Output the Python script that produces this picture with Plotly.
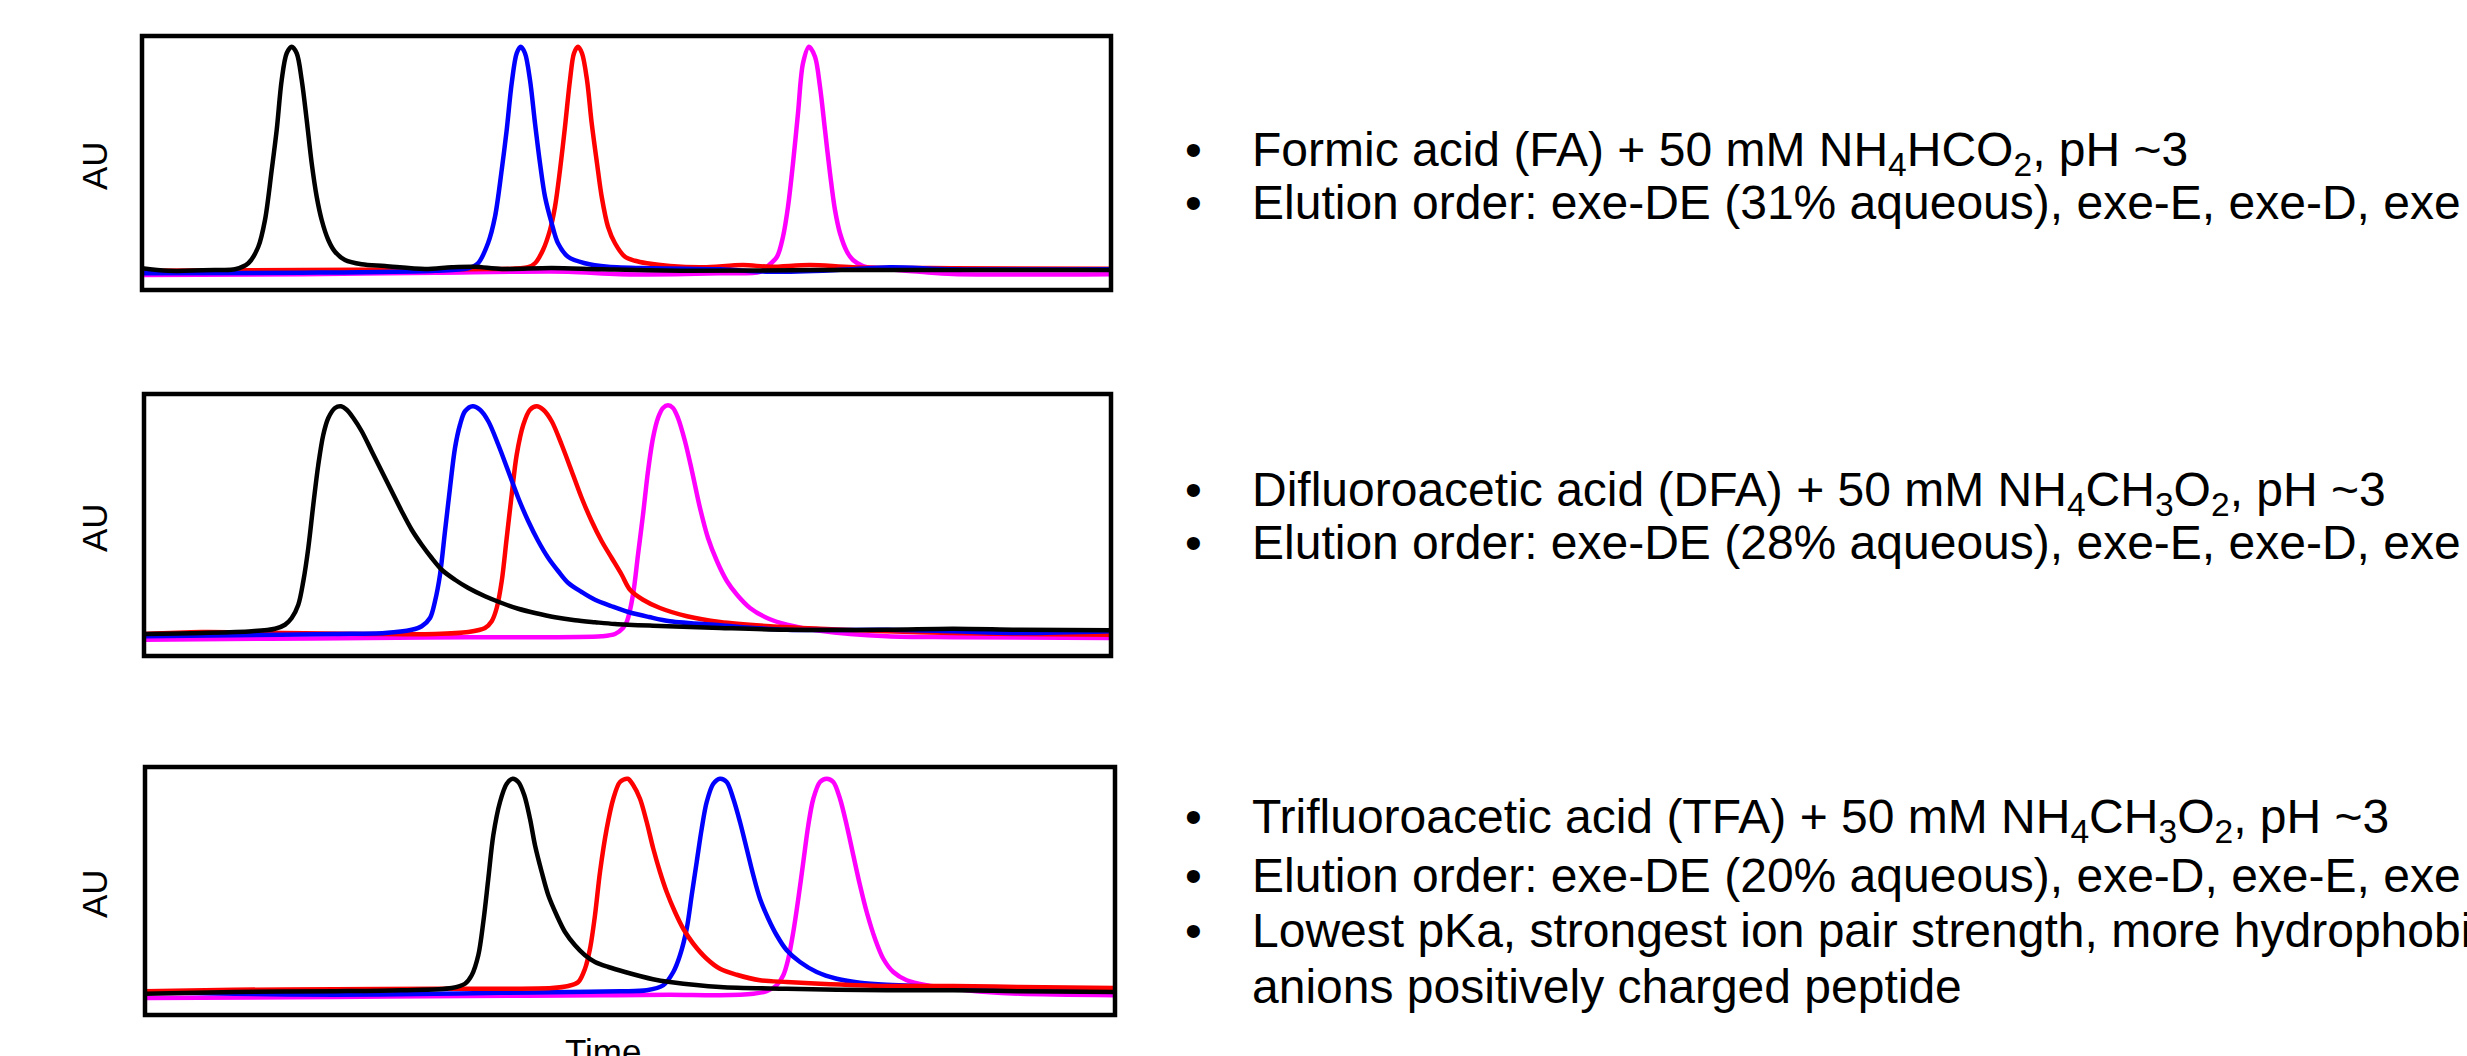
import plotly.graph_objects as go

W, H = 2467, 1056

# ---------------- data (time in arbitrary units, AU) ----------------
# Panel 1: Formic acid
fa_black_t = [0, 2.63, 7.63, 9.3, 10.63, 11.63, 12.3, 12.97, 13.47, 13.97, 14.47, 14.97, 15.47, 15.97, 16.47, 16.97, 17.47, 17.97, 18.63, 19.3, 20.3, 21.97, 24.3, 28.3, 30.97, 33.3, 35.97, 40.97, 45.97, 54.5, 67.8, 81.1, 96.9]
fa_black_y = [8.7, 7.7, 8.0, 8.3, 10.7, 17.3, 28, 48, 64, 84, 94.7, 97.3, 94.7, 84, 68, 50.7, 37.3, 28, 20, 15.3, 12, 10.3, 9.6, 8.4, 9.1, 9.3, 8.4, 8.8, 8.3, 7.7, 8.0, 8.0, 8.0]
fa_blue_t = [0, 15.97, 29.3, 32.6, 33.6, 34.6, 35.3, 35.97, 36.47, 36.97, 37.47, 37.87, 38.3, 38.8, 39.3, 39.8, 40.3, 40.97, 41.6, 42.6, 44.3, 46.6, 51.1, 57.8, 62.8, 69.5, 74.8, 81.1, 96.9]
fa_blue_y = [6.7, 6.9, 7.7, 8.7, 10.7, 18.7, 29.3, 48, 64, 82.7, 94.7, 97.3, 94.7, 84, 66.7, 50.7, 37.3, 26.7, 18.7, 13.3, 10.7, 9.3, 8.7, 8.3, 7.3, 8.0, 9.1, 8.3, 8.3]
fa_red_t = [0, 15.97, 32.6, 38.6, 39.3, 40.1, 40.8, 41.3, 41.8, 42.3, 42.8, 43.2, 43.6, 44.0, 44.5, 44.97, 45.5, 45.97, 46.6, 47.3, 48.3, 49.3, 50.5, 52.8, 56.1, 60.1, 62.8, 66.8, 71.1, 81.1, 96.9]
fa_red_y = [7.7, 8.0, 8.3, 9.1, 10.7, 16, 24, 33.3, 48, 65.3, 84, 94.7, 97.3, 94.7, 84, 66.7, 50.7, 37.3, 25.3, 18.7, 13.3, 11.7, 10.7, 9.6, 9.1, 10, 9.3, 10, 9.1, 8.7, 8.5]
fa_mag_t = [0, 15.97, 29.3, 42.6, 47.8, 57.8, 61.8, 62.5, 63.5, 64.1, 64.6, 65.1, 65.6, 66.1, 66.7, 67.3, 67.8, 68.3, 68.8, 69.3, 69.8, 70.5, 71.1, 72.1, 73.5, 77.8, 81.1, 96.9]
fa_mag_y = [6.0, 6.3, 6.9, 7.3, 6.3, 6.7, 7.3, 9.3, 13.3, 21.3, 33.3, 50.7, 70.7, 90.7, 97.3, 93.3, 81.3, 64, 46.7, 32, 22.7, 15.3, 12, 9.6, 8.7, 7.3, 6.4, 6.3]

# Panel 2: Difluoroacetic acid
dfa_black_t = [0, 5.77, 10.77, 13.1, 14.1, 14.77, 15.43, 15.93, 16.43, 16.93, 17.43, 17.93, 18.43, 19.1, 19.7, 20.27, 20.93, 21.77, 22.77, 23.77, 24.77, 25.77, 26.77, 27.77, 28.77, 29.77, 31.1, 32.43, 34.1, 35.77, 37.43, 39.1, 41.1, 43.1, 45.1, 47.1, 50.9, 57.6, 64.3, 74.3, 80.9, 87.6, 96.7]
dfa_black_y = [8.8, 9.2, 9.9, 10.9, 12.5, 15.2, 20.5, 29.9, 43.2, 60.5, 76.5, 88.5, 95.2, 99.2, 99.9, 98.5, 95.2, 89.9, 81.9, 73.9, 65.9, 57.9, 50.5, 44.5, 39.2, 34.5, 30.5, 27.2, 23.9, 21.2, 18.9, 17.2, 15.5, 14.3, 13.5, 12.8, 12.1, 11.2, 10.5, 10.5, 10.9, 10.5, 10.3]
dfa_blue_t = [0, 9.1, 19.1, 24.1, 26.77, 27.77, 28.6, 29.1, 29.6, 30.1, 30.6, 31.1, 31.6, 32.1, 32.87, 33.6, 34.43, 35.43, 36.43, 37.43, 38.43, 39.43, 40.43, 41.43, 42.43, 43.77, 45.1, 46.77, 48.43, 50.5, 52.6, 57.6, 64.3, 74.3, 80.9, 87.6, 96.7]
dfa_blue_y = [7.9, 8.3, 8.8, 9.2, 10.5, 11.9, 15.2, 21.9, 32.5, 49.9, 67.2, 83.2, 92.5, 97.9, 99.9, 98.5, 93.9, 84.5, 73.9, 63.2, 53.9, 45.9, 39.2, 33.9, 29.2, 25.6, 22.5, 19.9, 17.6, 15.6, 13.9, 12.3, 10.5, 10.5, 9.9, 9.2, 9.9]
dfa_red_t = [0, 5.77, 14.1, 22.43, 29.1, 32.43, 34.1, 34.77, 35.27, 35.77, 36.27, 36.77, 37.27, 37.93, 38.6, 39.27, 39.93, 40.77, 41.77, 42.77, 43.77, 44.77, 45.77, 46.77, 47.77, 48.6, 49.9, 51.6, 54.3, 57.6, 62.6, 67.6, 74.3, 80.9, 87.6, 96.7]
dfa_red_y = [8.8, 9.6, 9.2, 8.8, 8.8, 9.6, 11.2, 13.9, 19.2, 29.9, 47.2, 64.5, 80.5, 92.5, 98.5, 99.9, 98.5, 93.9, 84.5, 73.9, 63.2, 53.9, 45.9, 39.2, 32.5, 26.5, 22.5, 19.2, 15.9, 13.6, 11.9, 10.9, 9.9, 9.2, 8.8, 8.5]
dfa_mag_t = [0, 12.43, 22.43, 32.43, 45.77, 47.1, 47.9, 48.3, 48.9, 49.4, 49.9, 50.4, 50.9, 51.4, 51.9, 52.4, 52.9, 53.4, 54.1, 54.8, 55.6, 56.4, 57.3, 58.3, 59.3, 60.6, 62.3, 64.3, 67.6, 74.3, 80.9, 96.7]
dfa_mag_y = [6.5, 6.9, 7.2, 7.5, 7.9, 8.8, 11.2, 13.9, 24.5, 40.5, 56.5, 73.9, 87.2, 95.2, 99.2, 100.3, 99.2, 95.2, 85.9, 73.9, 59.2, 47.2, 37.9, 29.9, 24.5, 19.2, 15.2, 12.5, 10.1, 7.9, 7.5, 7.2]

# Panel 3: Trifluoroacetic acid
tfa_black_t = [0, 9, 19, 25.67, 30.67, 32, 32.67, 33.33, 33.83, 34.33, 34.83, 35.5, 36.17, 36.77, 37.33, 37.93, 38.5, 39, 39.67, 40.33, 41.17, 42, 43, 44, 45, 46.33, 48, 50.8, 52.5, 57.5, 64.2, 74.2, 80.8, 87.5, 97]
tfa_black_y = [8.5, 9.2, 9.5, 9.9, 10.8, 12.5, 15.9, 23.9, 37.2, 54.5, 71.9, 85.2, 92.5, 94.5, 93.2, 87.9, 78.5, 67.9, 57.2, 47.9, 39.9, 33.2, 27.9, 23.9, 21.2, 19.2, 17.2, 14.3, 13.2, 11.2, 10.5, 9.9, 9.9, 9.5, 9.2]
tfa_red_t = [0, 9, 19, 29, 35.67, 40.67, 42.33, 43.33, 44, 44.5, 45, 45.5, 46.17, 46.83, 47.5, 48.27, 48.83, 49.5, 50.17, 50.83, 51.5, 52.17, 53, 53.83, 54.83, 56.17, 57.5, 59.17, 61.5, 64.17, 67.5, 74.17, 80.83, 87.5, 97]
tfa_red_y = [9.5, 10.1, 10.3, 10.5, 10.5, 10.8, 11.6, 13.2, 18.5, 26.5, 39.9, 57.2, 74.5, 86.5, 93.2, 94.5, 91.9, 86.5, 77.2, 66.5, 57.2, 49.2, 41.2, 34.5, 28.5, 22.5, 18.5, 16.1, 13.9, 13.2, 12.5, 11.6, 11.6, 11.2, 10.8]
tfa_blue_t = [0, 9, 19, 29, 35.67, 42.33, 47.5, 50.17, 51.83, 52.83, 53.5, 54.17, 54.67, 55.17, 55.67, 56.17, 56.83, 57.5, 58.17, 58.83, 59.5, 60.17, 60.83, 61.5, 62.33, 63.17, 64.17, 65.5, 67.17, 69.17, 71.5, 74.17, 80.83, 87.5, 97]
tfa_blue_y = [9.2, 8.5, 8.1, 8.5, 8.9, 9.2, 9.5, 9.9, 11.9, 17.2, 23.9, 34.5, 47.9, 61.2, 74.5, 85.2, 92.5, 94.5, 93.2, 86.5, 77.2, 66.5, 55.9, 46.5, 38.5, 31.9, 25.9, 21.2, 17.2, 14.5, 12.9, 12.1, 11.2, 10.8, 10.5]
tfa_mag_t = [0, 19, 32.33, 45.67, 52.5, 57.5, 60.83, 62.17, 63.17, 63.83, 64.33, 64.83, 65.33, 65.83, 66.33, 66.83, 67.5, 68.17, 68.83, 69.5, 70.17, 70.83, 71.5, 72.17, 73, 73.83, 74.83, 76.17, 78.17, 80.83, 84.17, 87.5, 97]
tfa_mag_y = [6.8, 7.2, 7.6, 7.9, 8.1, 7.9, 8.5, 9.5, 11.9, 15.9, 22.5, 33.2, 46.5, 61.2, 75.9, 86.5, 93.2, 94.5, 93.2, 86.5, 75.9, 63.9, 51.9, 41.2, 30.5, 22.5, 17.2, 13.9, 11.9, 10.5, 9.2, 8.5, 7.9]

panel_lines = [
    ["Formic acid (FA) + 50 mM NH<sub>4</sub>HCO<sub>2</sub>, pH ~3",
     "Elution order: exe-DE (31% aqueous), exe-E, exe-D, exe"],
    ["Difluoroacetic acid (DFA) + 50 mM NH<sub>4</sub>CH<sub>3</sub>O<sub>2</sub>, pH ~3",
     "Elution order: exe-DE (28% aqueous), exe-E, exe-D, exe"],
    ["Trifluoroacetic acid (TFA) + 50 mM NH<sub>4</sub>CH<sub>3</sub>O<sub>2</sub>, pH ~3",
     "Elution order: exe-DE (20% aqueous), exe-D, exe-E, exe",
     "Lowest pKa, strongest ion pair strength, more hydrophobic",
     "anions positively charged peptide"],
]
y_label = "AU"
x_label = "Time"

# ---------------- layout (pixel geometry) ----------------
BLACK, BLUE, RED, MAG = "#000000", "#0000FF", "#FF0000", "#FF00FF"

panels = [
    dict(box=(142, 1111, 36, 290),
         series=[(fa_mag_t, fa_mag_y, MAG), (fa_red_t, fa_red_y, RED),
                 (fa_blue_t, fa_blue_y, BLUE), (fa_black_t, fa_black_y, BLACK)],
         text_base=[165, 218], bullets=[True, True]),
    dict(box=(144, 1111, 394, 656),
         series=[(dfa_mag_t, dfa_mag_y, MAG), (dfa_red_t, dfa_red_y, RED),
                 (dfa_blue_t, dfa_blue_y, BLUE), (dfa_black_t, dfa_black_y, BLACK)],
         text_base=[505, 558], bullets=[True, True]),
    dict(box=(145, 1115, 767, 1015),
         series=[(tfa_mag_t, tfa_mag_y, MAG), (tfa_blue_t, tfa_blue_y, BLUE),
                 (tfa_red_t, tfa_red_y, RED), (tfa_black_t, tfa_black_y, BLACK)],
         text_base=[832, 891, 946, 1002], bullets=[True, True, True, False]),
]

fig = go.Figure()
FONT = "Liberation Sans, Arial, sans-serif"
FS = 48
ASC = 0.905
annotations = []
shapes = []

for i, p in enumerate(panels):
    n = "" if i == 0 else str(i + 1)
    xl, xr, yt, yb = p["box"]
    xa, ya = "x" + n, "y" + n
    for t, y, c in p["series"]:
        fig.add_trace(go.Scatter(x=t, y=y, mode="lines", xaxis=xa, yaxis=ya,
                                 line=dict(color=c, width=4.5, shape="spline", smoothing=0.9),
                                 showlegend=False, hoverinfo="skip"))
    fig.layout["xaxis" + n] = dict(domain=[xl / W, xr / W], range=[0, (xr - xl) / 10],
                                   showgrid=False, zeroline=False, showticklabels=False,
                                   ticks="", showline=False, anchor=ya, fixedrange=True)
    fig.layout["yaxis" + n] = dict(domain=[1 - yb / H, 1 - yt / H], range=[0, (yb - yt) * 0.4],
                                   showgrid=False, zeroline=False, showticklabels=False,
                                   ticks="", showline=False, anchor=xa, fixedrange=True)
    shapes.append(dict(type="rect", xref=xa + " domain", yref=ya + " domain",
                       x0=0, x1=1, y0=0, y1=1, line=dict(color="black", width=4.5),
                       fillcolor="rgba(0,0,0,0)", layer="above"))
    # AU label
    annotations.append(dict(text=y_label, xref="paper", yref="paper",
                            x=94 / W, y=1 - ((yt + yb) / 2 + 3) / H, textangle=-90,
                            showarrow=False, xanchor="center", yanchor="middle",
                            font=dict(family=FONT, size=35, color="black")))
    # bullet text (anchored at the top of the text box so subscripts do not shift it)
    for line, base, bul in zip(panel_lines[i], p["text_base"], p["bullets"]):
        ytop = 1 - (base - ASC * FS - 1) / H
        if bul:
            annotations.append(dict(text="•", xref="paper", yref="paper", x=1193 / W, y=ytop,
                                    showarrow=False, xanchor="center", yanchor="top",
                                    font=dict(family=FONT, size=FS, color="black")))
        annotations.append(dict(text=line, xref="paper", yref="paper", x=1250 / W, y=ytop,
                                showarrow=False, xanchor="left", yanchor="top",
                                font=dict(family=FONT, size=FS, color="black")))

annotations.append(dict(text=x_label, xref="paper", yref="paper", x=603 / W, y=1 - 1051 / H,
                        showarrow=False, xanchor="center", yanchor="middle",
                        font=dict(family=FONT, size=35, color="black")))

fig.update_layout(width=W, height=H, margin=dict(l=0, r=0, t=0, b=0),
                  paper_bgcolor="white", plot_bgcolor="white",
                  annotations=annotations, shapes=shapes, showlegend=False)

fig.write_html("out.html", config={"displayModeBar": False, "staticPlot": True},
               post_script="document.body.style.margin='0';document.body.style.overflow='hidden';")
